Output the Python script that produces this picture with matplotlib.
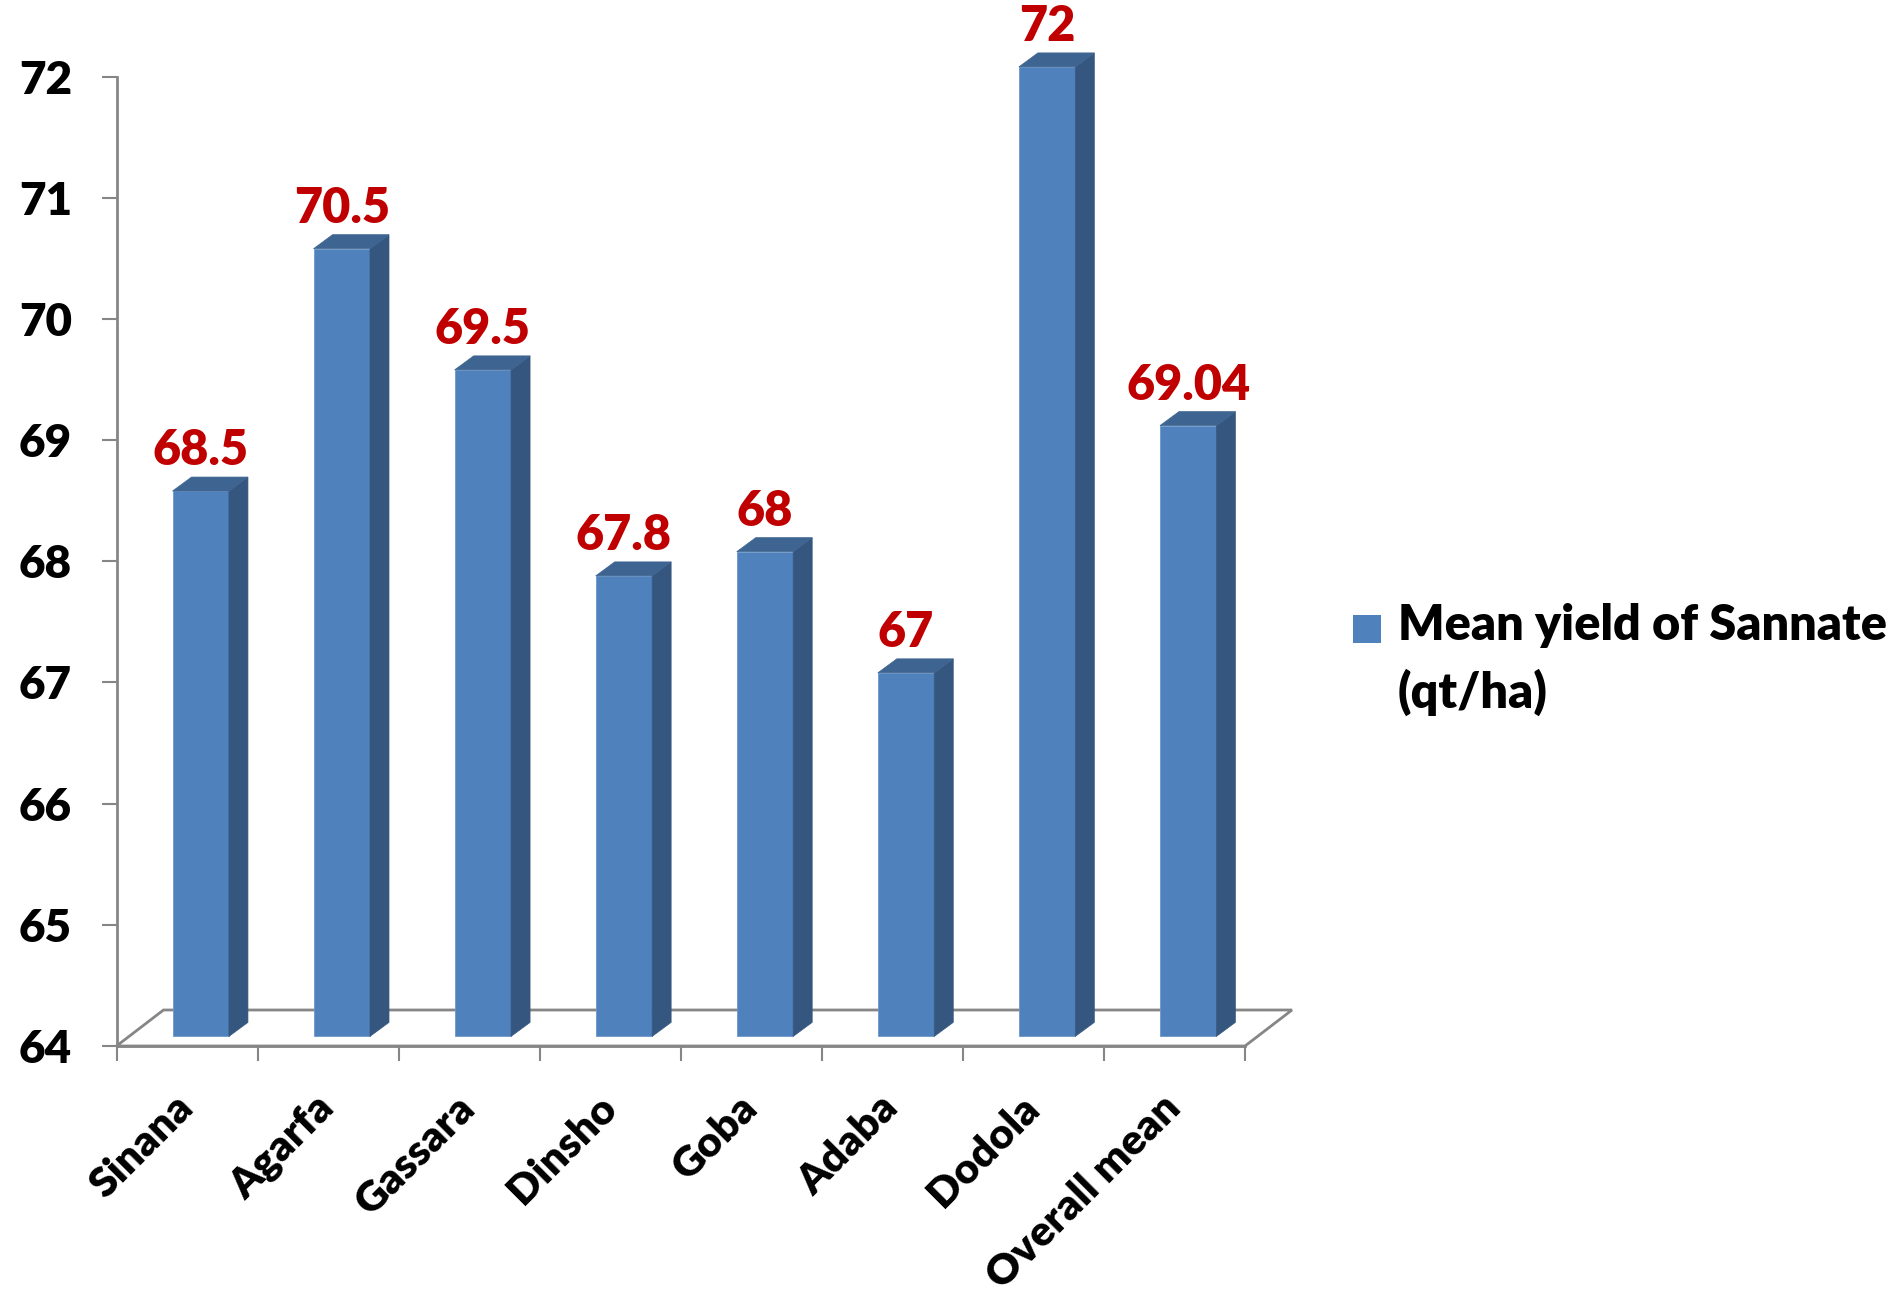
import matplotlib
matplotlib.use("Agg")
import matplotlib.pyplot as plt
from matplotlib.patches import Polygon, Rectangle
import numpy as np

# Chart data
locations = ["Sinana", "Agarfa", "Gassara", "Dinsho", "Goba", "Adaba", "Dodola", "Overall mean"]
mean_yield = [68.5, 70.5, 69.5, 67.8, 68.0, 67.0, 72.0, 69.04]
value_labels = ["68.5", "70.5", "69.5", "67.8", "68", "67", "72", "69.04"]
y_ticks = [64, 65, 66, 67, 68, 69, 70, 71, 72]
series_name = "Mean yield of Sannate\n(qt/ha)"

plt.rcParams["font.family"] = ["Lato", "DejaVu Sans"]
plt.rcParams["font.weight"] = "heavy"
WEIGHT = "heavy"

W, H = 1903, 1297
fig = plt.figure(figsize=(W / 100, H / 100), dpi=100)
ax = fig.add_axes([116.5 / W, 251 / H, 1128.5 / W, 969.5 / H])
ax.set_xlim(-0.5, 7.5)
ax.set_ylim(64, 72)

grey = "#868686"
front_c = "#4F81BD"
side_c = "#35577F"
top_c = "#3E6591"

# pixel -> data unit helpers for the 3D offsets
px_x = 8 / 1128.5
px_y = 8 / 969.5

# floor (back line + side diagonals)
fdx, fdy = 47 * px_x, 36 * px_y
floor = Polygon([(-0.5, 64), (7.5, 64), (7.5 + fdx, 64 + fdy), (-0.5 + fdx, 64 + fdy)],
                closed=True, fill=False, edgecolor=grey, linewidth=2, clip_on=False, zorder=1)
ax.add_patch(floor)

# bars
x = np.arange(len(locations))
w = 0.40
bx, by = 13.7 * px_x, 9.6 * px_y
sx, sy = 19 * px_x, 14 * px_y
ax.bar(x + bx, np.array(mean_yield) - 64, bottom=64 + by, width=w, color=front_c,
       edgecolor="#6f97c9", linewidth=0.6, zorder=3, clip_on=False)
for xi, v in zip(x, mean_yield):
    xl = xi + bx - w / 2
    xr = xi + bx + w / 2
    side = Polygon([(xr, 64 + by), (xr + sx, 64 + by + sy), (xr + sx, v + by + sy), (xr, v + by)],
                   closed=True, facecolor=side_c, edgecolor=side_c, linewidth=0.5, zorder=3, clip_on=False)
    top = Polygon([(xl, v + by), (xr, v + by), (xr + sx, v + by + sy), (xl + sx, v + by + sy)],
                  closed=True, facecolor=top_c, edgecolor=top_c, linewidth=0.5, zorder=3, clip_on=False)
    ax.add_patch(side)
    ax.add_patch(top)

# value labels
for xi, v, lab in zip(x, mean_yield, value_labels):
    ax.annotate(lab, (xi + bx, v), xytext=(0, 35.6), textcoords="offset pixels",
                ha="center", va="baseline", color="#C00000", fontsize=35, fontweight=WEIGHT,
                annotation_clip=False)

# axes styling
for s in ["top", "right"]:
    ax.spines[s].set_visible(False)
for s in ["left", "bottom"]:
    ax.spines[s].set_color(grey)
    ax.spines[s].set_linewidth(2)
ax.set_yticks(y_ticks)
ax.set_yticklabels([str(t) for t in y_ticks], fontsize=33, fontweight=WEIGHT)
ax.tick_params(axis="y", length=11, width=1.5, color=grey, pad=21)
ax.set_xticks(np.arange(-0.5, 8, 1))
ax.set_xticklabels([])
ax.tick_params(axis="x", which="major", length=11, width=1.5, color=grey)
ax.set_xticks(x, minor=True)
ax.set_xticklabels(locations, minor=True, rotation=45, ha="right", va="center",
                   rotation_mode="anchor", fontsize=30.5, fontweight=WEIGHT)
ax.tick_params(axis="x", which="minor", length=0, pad=40)

# legend
fig.add_artist(Rectangle((1353 / W, 1 - 643 / H), 28 / W, 28 / H, transform=fig.transFigure,
                         facecolor=front_c, edgecolor="none"))
fig.text(1398 / W, 1 - 603 / H, series_name, ha="left", va="top", fontsize=35,
         fontweight=WEIGHT, linespacing=1.52)

fig.savefig("out.png", dpi=100)
